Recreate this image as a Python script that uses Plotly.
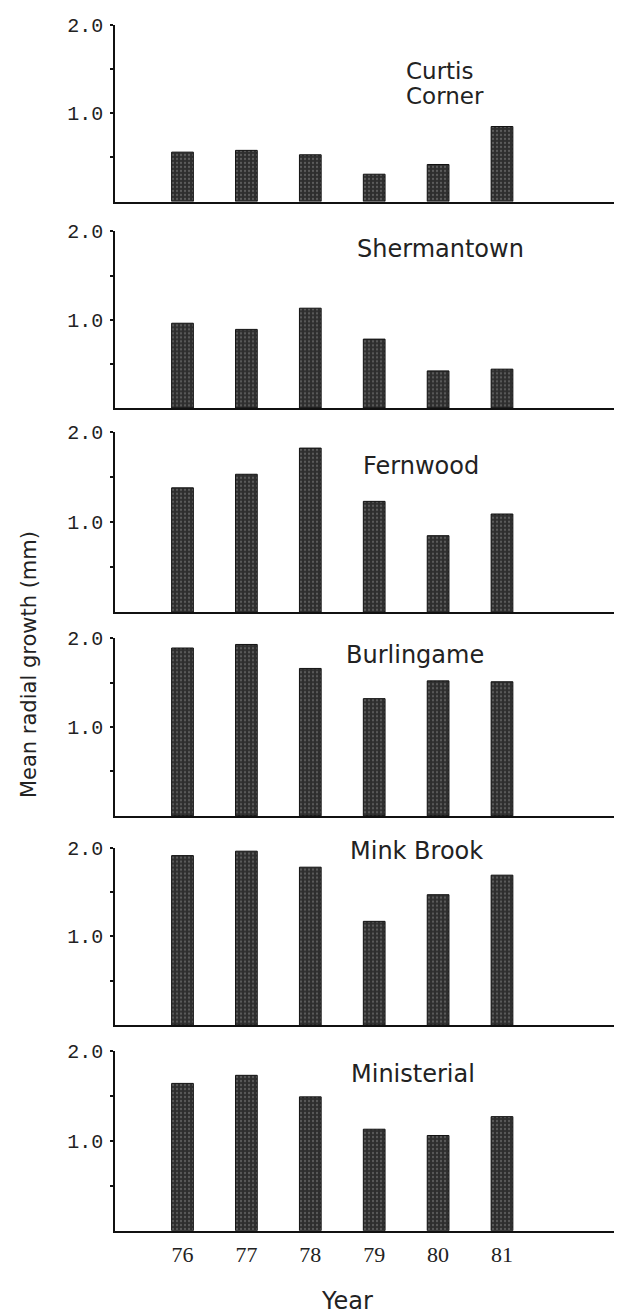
import plotly.graph_objects as go

years = [76, 77, 78, 79, 80, 81]
year_labels = ["76", "77", "78", "79", "80", "81"]

site_names = ["Curtis Corner", "Shermantown", "Fernwood", "Burlingame", "Mink Brook", "Ministerial"]
curtis_corner = [0.56, 0.58, 0.53, 0.31, 0.42, 0.85]
shermantown = [0.96, 0.89, 1.13, 0.78, 0.42, 0.44]
fernwood = [1.38, 1.53, 1.82, 1.23, 0.85, 1.09]
burlingame = [1.89, 1.93, 1.66, 1.32, 1.52, 1.51]
mink_brook = [1.91, 1.96, 1.78, 1.17, 1.47, 1.69]
ministerial = [1.64, 1.73, 1.49, 1.13, 1.06, 1.27]
series = [curtis_corner, shermantown, fernwood, burlingame, mink_brook, ministerial]

y_tick_vals = [1.0, 2.0]
y_tick_text = ["1.0", "2.0"]

W, H = 622, 1313
OFF = 8  # page body margin offset compensation
# pixel rows in the target picture: (top of 2.0, baseline 0)
panel_px = [(15, 193), (223, 401), (425, 607), (633, 812), (844, 1023), (1049, 1230)]
label_px = [(443, 74), (440, 241), (421, 459), (415, 650), (416, 847), (413, 1072)]


def px_x(x):
    return (x - OFF) / W


def px_y(y):
    return 1 - (y - OFF) / H


fig = go.Figure()
layout = dict(
    width=W, height=H,
    margin=dict(l=0, r=0, t=0, b=0),
    paper_bgcolor="white", plot_bgcolor="white",
    showlegend=False,
    annotations=[],
)

x_dom = [px_x(115), 1.0]
x_left_px, x_right_px = 115, W + OFF
scale = (502 - 182.5) / 5.0
x_range = [76 - (182.5 - x_left_px) / scale, 76 + (x_right_px - 182.5) / scale]

label_font = dict(family="DejaVu Sans", size=24, color="#222")

for i, vals in enumerate(series):
    n = i + 1
    xa = "x" if n == 1 else f"x{n}"
    ya = "y" if n == 1 else f"y{n}"
    fig.add_trace(go.Bar(
        x=years, y=vals, xaxis=xa, yaxis=ya,
        width=0.34, name=site_names[i],
        marker=dict(color="#2e2e2e", line=dict(color="#111111", width=1),
                    pattern=dict(shape=".", fgcolor="#8a8a8a", size=4, solidity=0.25)),
        hoverinfo="x+y+name",
    ))
    top, base = panel_px[i]
    ydom = [px_y(base), px_y(top)]
    last = (n == len(series))
    layout["xaxis" if n == 1 else f"xaxis{n}"] = dict(
        domain=x_dom, anchor=ya, range=x_range,
        showgrid=False, zeroline=False, showline=True, linecolor="#111", linewidth=1.6,
        tickvals=years, ticktext=year_labels if last else [""] * 6,
        showticklabels=last, ticks="",
        tickfont=dict(family="Liberation Serif", size=22, color="#222"),
        ticklabelstandoff=3,
        fixedrange=True,
    )
    layout["yaxis" if n == 1 else f"yaxis{n}"] = dict(
        domain=ydom, anchor=xa, range=[0, 2.0],
        showgrid=False, zeroline=False, showline=True, linecolor="#111", linewidth=1.6,
        tickvals=y_tick_vals, ticktext=y_tick_text,
        ticks="outside", ticklen=3, tickwidth=1.5, tickcolor="#111",
        minor=dict(tickvals=[0.5, 1.5], ticks="outside", ticklen=3, tickwidth=1.5, tickcolor="#111"),
        tickfont=dict(family="Liberation Mono", size=20, color="#222"),
        ticklabelstandoff=3,
        fixedrange=True,
    )
    lx, ly = label_px[i]
    if i == 0:
        # two-line label with tight line spacing
        first, second = site_names[i].split(" ")
        for txt, yy in ((first, ly - 13), (second, ly + 13)):
            layout["annotations"].append(dict(
                text=txt, x=px_x(404), y=px_y(yy), xref="paper", yref="paper",
                xanchor="left", yanchor="middle", showarrow=False,
                font=dict(family="DejaVu Sans", size=23, color="#222"),
            ))
    else:
        layout["annotations"].append(dict(
            text=site_names[i], x=px_x(lx), y=px_y(ly), xref="paper", yref="paper",
            xanchor="center", yanchor="middle", showarrow=False, font=label_font,
        ))

layout["annotations"].append(dict(
    text="Year", x=px_x(347), y=px_y(1301), xref="paper", yref="paper",
    xanchor="center", yanchor="middle", showarrow=False,
    font=dict(family="DejaVu Sans", size=24, color="#222"),
))
layout["annotations"].append(dict(
    text="Mean radial growth (mm)", x=px_x(29), y=px_y(660), xref="paper", yref="paper",
    xanchor="center", yanchor="middle", showarrow=False, textangle=-90,
    font=dict(family="DejaVu Sans", size=21, color="#222"),
))

fig.update_layout(**layout)
fig.write_html("out.html")
